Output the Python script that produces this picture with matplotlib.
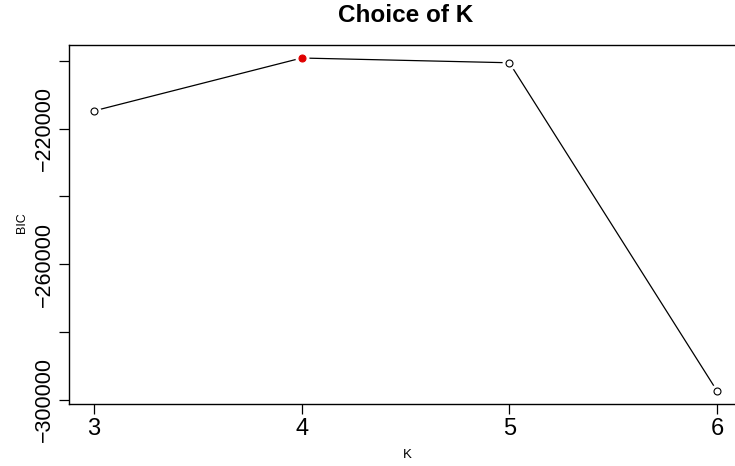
import matplotlib
matplotlib.use("Agg")
import matplotlib.pyplot as plt
import numpy as np

plt.rcParams['font.family'] = ['Liberation Sans', 'DejaVu Sans']

k_values = [3, 4, 5, 6]
bic_values = [-214800, -199200, -200600, -297400]
best_k = 4
y_ticks = [-300000, -280000, -260000, -240000, -220000, -200000]
y_labels = ['\u2212300000', '', '\u2212260000', '', '\u2212220000', '']

fig = plt.figure(figsize=(7.35, 4.66), dpi=100)
W, H = 735, 466
left, right, top, bottom = 69, 742, 44.7, 404.3
ax = fig.add_axes([left / W, 1 - bottom / H, (right - left) / W, (bottom - top) / H])

xs = np.array(k_values)
ys = np.array(bic_values)

# R type="b": line with gaps around the points
ax.plot(xs, ys, color='black', lw=0.9, zorder=1)
ax.plot(xs, ys, 'o', ms=9, mfc='white', mec='white', zorder=2)
for x, y in zip(xs, ys):
    if x == best_k:
        ax.plot(x, y, 'o', ms=5, mfc='#e00000', mec='#e00000', mew=0.8, zorder=3)
    else:
        ax.plot(x, y, 'o', ms=5, mfc='white', mec='black', mew=0.8, zorder=3)

xr = xs.max() - xs.min()
yr = ys.max() - ys.min()
ax.set_xlim(xs.min() - 0.04 * xr, xs.max() + 0.04 * xr)
ax.set_ylim(ys.min() - 0.04 * yr, ys.max() + 0.04 * yr)

ax.set_xticks(k_values)
ax.set_xticklabels([str(k) for k in k_values], fontsize=17)
ax.set_yticks(y_ticks)
ax.set_yticklabels(y_labels, fontsize=15.5, rotation=90, va='center')
ax.tick_params(axis='both', length=7, width=0.9, color='black', pad=3)

for s in ax.spines.values():
    s.set_linewidth(1.0)

fig.text(406 / W, 1 - 15 / H, 'Choice of K', ha='center', va='center',
         fontsize=17.5, fontweight='bold')
fig.text(22 / W, 1 - 223 / H, 'BIC', ha='center', va='center', rotation=90, fontsize=9)
fig.text(407 / W, 1 - 455 / H, 'K', ha='center', va='center', fontsize=9.5)

fig.savefig('out.png', dpi=100)
